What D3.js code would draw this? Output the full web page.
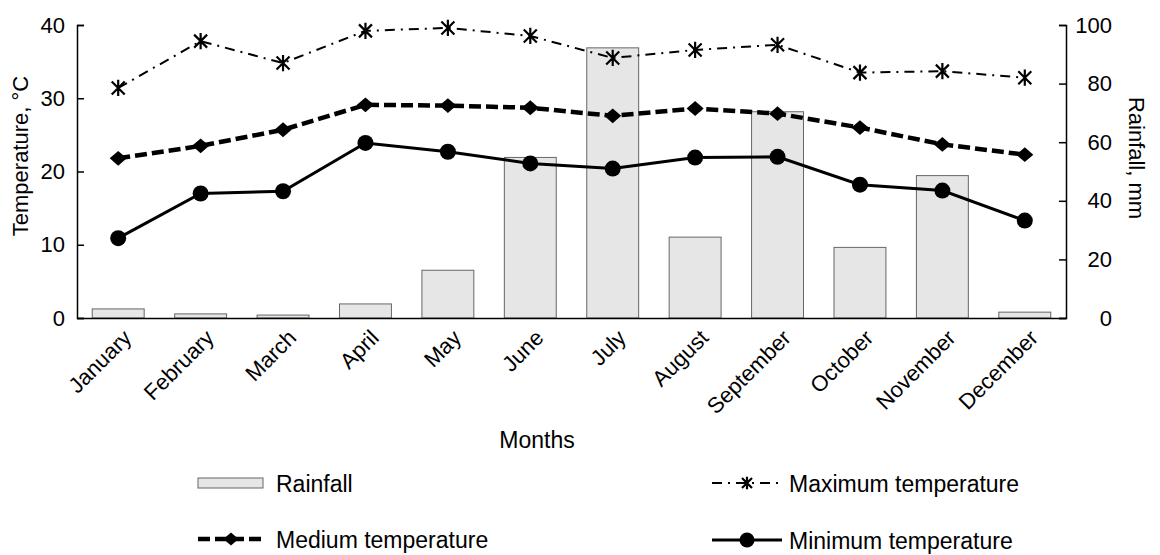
<!DOCTYPE html>
<html>
<head>
<meta charset="utf-8">
<script src="https://cdn.jsdelivr.net/npm/d3@7"></script>
<style>
body{margin:0;background:#fff;}
text{font-family:"Liberation Sans",Arial,sans-serif;fill:#000;}
</style>
</head>
<body>
<div id="chart"></div>
<script>
(function(){

const months = ["January","February","March","April","May","June","July","August","September","October","November","December"];
const rainfall = [3.1,1.4,1.0,4.8,16.3,54.8,92.2,27.6,70.4,24.1,48.6,2.0];
const maxTemp = [31.4,37.8,34.8,39.2,39.6,38.5,35.5,36.6,37.3,33.5,33.7,32.8];
const medTemp = [21.8,23.5,25.7,29.1,29.0,28.7,27.6,28.6,27.9,26.0,23.7,22.3];
const minTemp = [10.9,17.0,17.3,23.9,22.7,21.1,20.4,21.9,22.0,18.2,17.4,13.3];
const tempTicks = [0,10,20,30,40];
const rainTicks = [0,20,40,60,80,100];

const width = 1160;
const height = 555;
const margin = {top:25,right:94,bottom:237,left:77};

const svg = d3.select("#chart")
.append("svg")
.attr("width",width)
.attr("height",height);

const x = d3.scaleBand()
.domain(months)
.range([margin.left,width-margin.right])
.paddingInner(0.37)
.paddingOuter(0.185);

const xc = d3.scalePoint()
.domain(months)
.range([margin.left,width-margin.right])
.padding(0.5);

const yT = d3.scaleLinear()
.domain([0,40])
.range([height-margin.bottom,margin.top]);

const yR = d3.scaleLinear()
.domain([0,100])
.range([height-margin.bottom,margin.top]);

// bars
svg.selectAll("rect.bar")
.data(rainfall)
.enter()
.append("rect")
.attr("class","bar")
.attr("x",(d,i)=>x(months[i]))
.attr("y",d=>yR(d))
.attr("width",x.bandwidth())
.attr("height",d=>yR(0)-yR(d))
.attr("fill","#e6e6e6")
.attr("stroke","#666")
.attr("stroke-width",1);

// axes
const axL = svg.append("g")
.attr("transform",`translate(${margin.left},0)`)
.call(d3.axisRight(yT).tickValues(tempTicks).tickSize(7).tickFormat(d3.format("d")));
axL.selectAll("text").attr("x",-12).attr("text-anchor","end").style("font-size","22px");

const axR = svg.append("g")
.attr("transform",`translate(${width-margin.right},0)`)
.call(d3.axisLeft(yR).tickValues(rainTicks).tickSize(7).tickFormat(d3.format("d")));
axR.selectAll("text").attr("x",46).attr("text-anchor","end").style("font-size","22px");

const axB = svg.append("g")
.attr("transform",`translate(0,${height-margin.bottom})`)
.call(d3.axisBottom(xc).tickSize(0));
axB.selectAll("text")
.attr("text-anchor","end")
.attr("transform","rotate(-45)")
.attr("x",-5)
.attr("y",25)
.attr("dy",0)
.style("font-size","22px");

svg.selectAll(".domain").attr("stroke","#000").attr("stroke-width",1.5);
svg.selectAll(".tick line").attr("stroke","#000").attr("stroke-width",1.5);

// axis titles
svg.append("text")
.attr("transform","translate(28,156) rotate(-90)")
.attr("text-anchor","middle")
.style("font-size","22px")
.text("Temperature, °C");

svg.append("text")
.attr("transform","translate(1129,158) rotate(90)")
.attr("text-anchor","middle")
.style("font-size","22px")
.text("Rainfall, mm");

svg.append("text")
.attr("x",537)
.attr("y",448)
.attr("text-anchor","middle")
.style("font-size","23px")
.text("Months");

// lines
const line = d3.line()
.x((d,i)=>xc(months[i]))
.y(d=>yT(d));

const starPath = s => `M${-s},${-s}L${s},${s}M${-s},${s}L${s},${-s}M0,${-s*1.25}L0,${s*1.25}`;

function drawSeries(data,opts){
  svg.append("path")
  .datum(data)
  .attr("d",line)
  .attr("fill","none")
  .attr("stroke","#000")
  .attr("stroke-width",opts.sw)
  .attr("stroke-dasharray",opts.dash);
  const g = svg.selectAll(null)
  .data(data)
  .enter()
  .append("g")
  .attr("transform",(d,i)=>`translate(${xc(months[i])},${yT(d)})`);
  opts.marker(g);
}

drawSeries(maxTemp,{sw:2,dash:"10,6,2,6",marker:g=>g.append("path")
  .attr("d",starPath(6.5)).attr("stroke","#000").attr("stroke-width",2.2).attr("fill","none")});

drawSeries(medTemp,{sw:4.5,dash:"12,5",marker:g=>g.append("path")
  .attr("d",d3.symbol(d3.symbolDiamond2,140)).attr("transform","scale(1.15,1)").attr("fill","#000")});

drawSeries(minTemp,{sw:3,dash:null,marker:g=>g.append("circle")
  .attr("r",8).attr("fill","#000")});

// legend
const lg = svg.append("g");
lg.append("rect").attr("x",198).attr("y",478).attr("width",65).attr("height",10)
.attr("fill","#e6e6e6").attr("stroke","#666");
lg.append("text").attr("x",276).attr("y",492).style("font-size","23px").text("Rainfall");

lg.append("line").attr("x1",198).attr("x2",263).attr("y1",539).attr("y2",539)
.attr("stroke","#000").attr("stroke-width",4.5).attr("stroke-dasharray","12,5");
lg.append("path").attr("d",d3.symbol(d3.symbolDiamond2,110)).attr("transform","translate(231,539) scale(1.15,1)");
lg.append("text").attr("x",276).attr("y",548).style("font-size","23px").text("Medium temperature");

lg.append("line").attr("x1",712).attr("x2",782).attr("y1",483).attr("y2",483)
.attr("stroke","#000").attr("stroke-width",2).attr("stroke-dasharray","10,6,2,6");
lg.append("path").attr("d",starPath(5)).attr("transform","translate(747,483)")
.attr("stroke","#000").attr("stroke-width",2.2).attr("fill","none");
lg.append("text").attr("x",789).attr("y",492).style("font-size","23px").text("Maximum temperature");

lg.append("line").attr("x1",712).attr("x2",782).attr("y1",540).attr("y2",540)
.attr("stroke","#000").attr("stroke-width",3);
lg.append("circle").attr("cx",747).attr("cy",540).attr("r",7.5);
lg.append("text").attr("x",789).attr("y",549).style("font-size","23px").text("Minimum temperature");

})();
</script>
</body>
</html>
